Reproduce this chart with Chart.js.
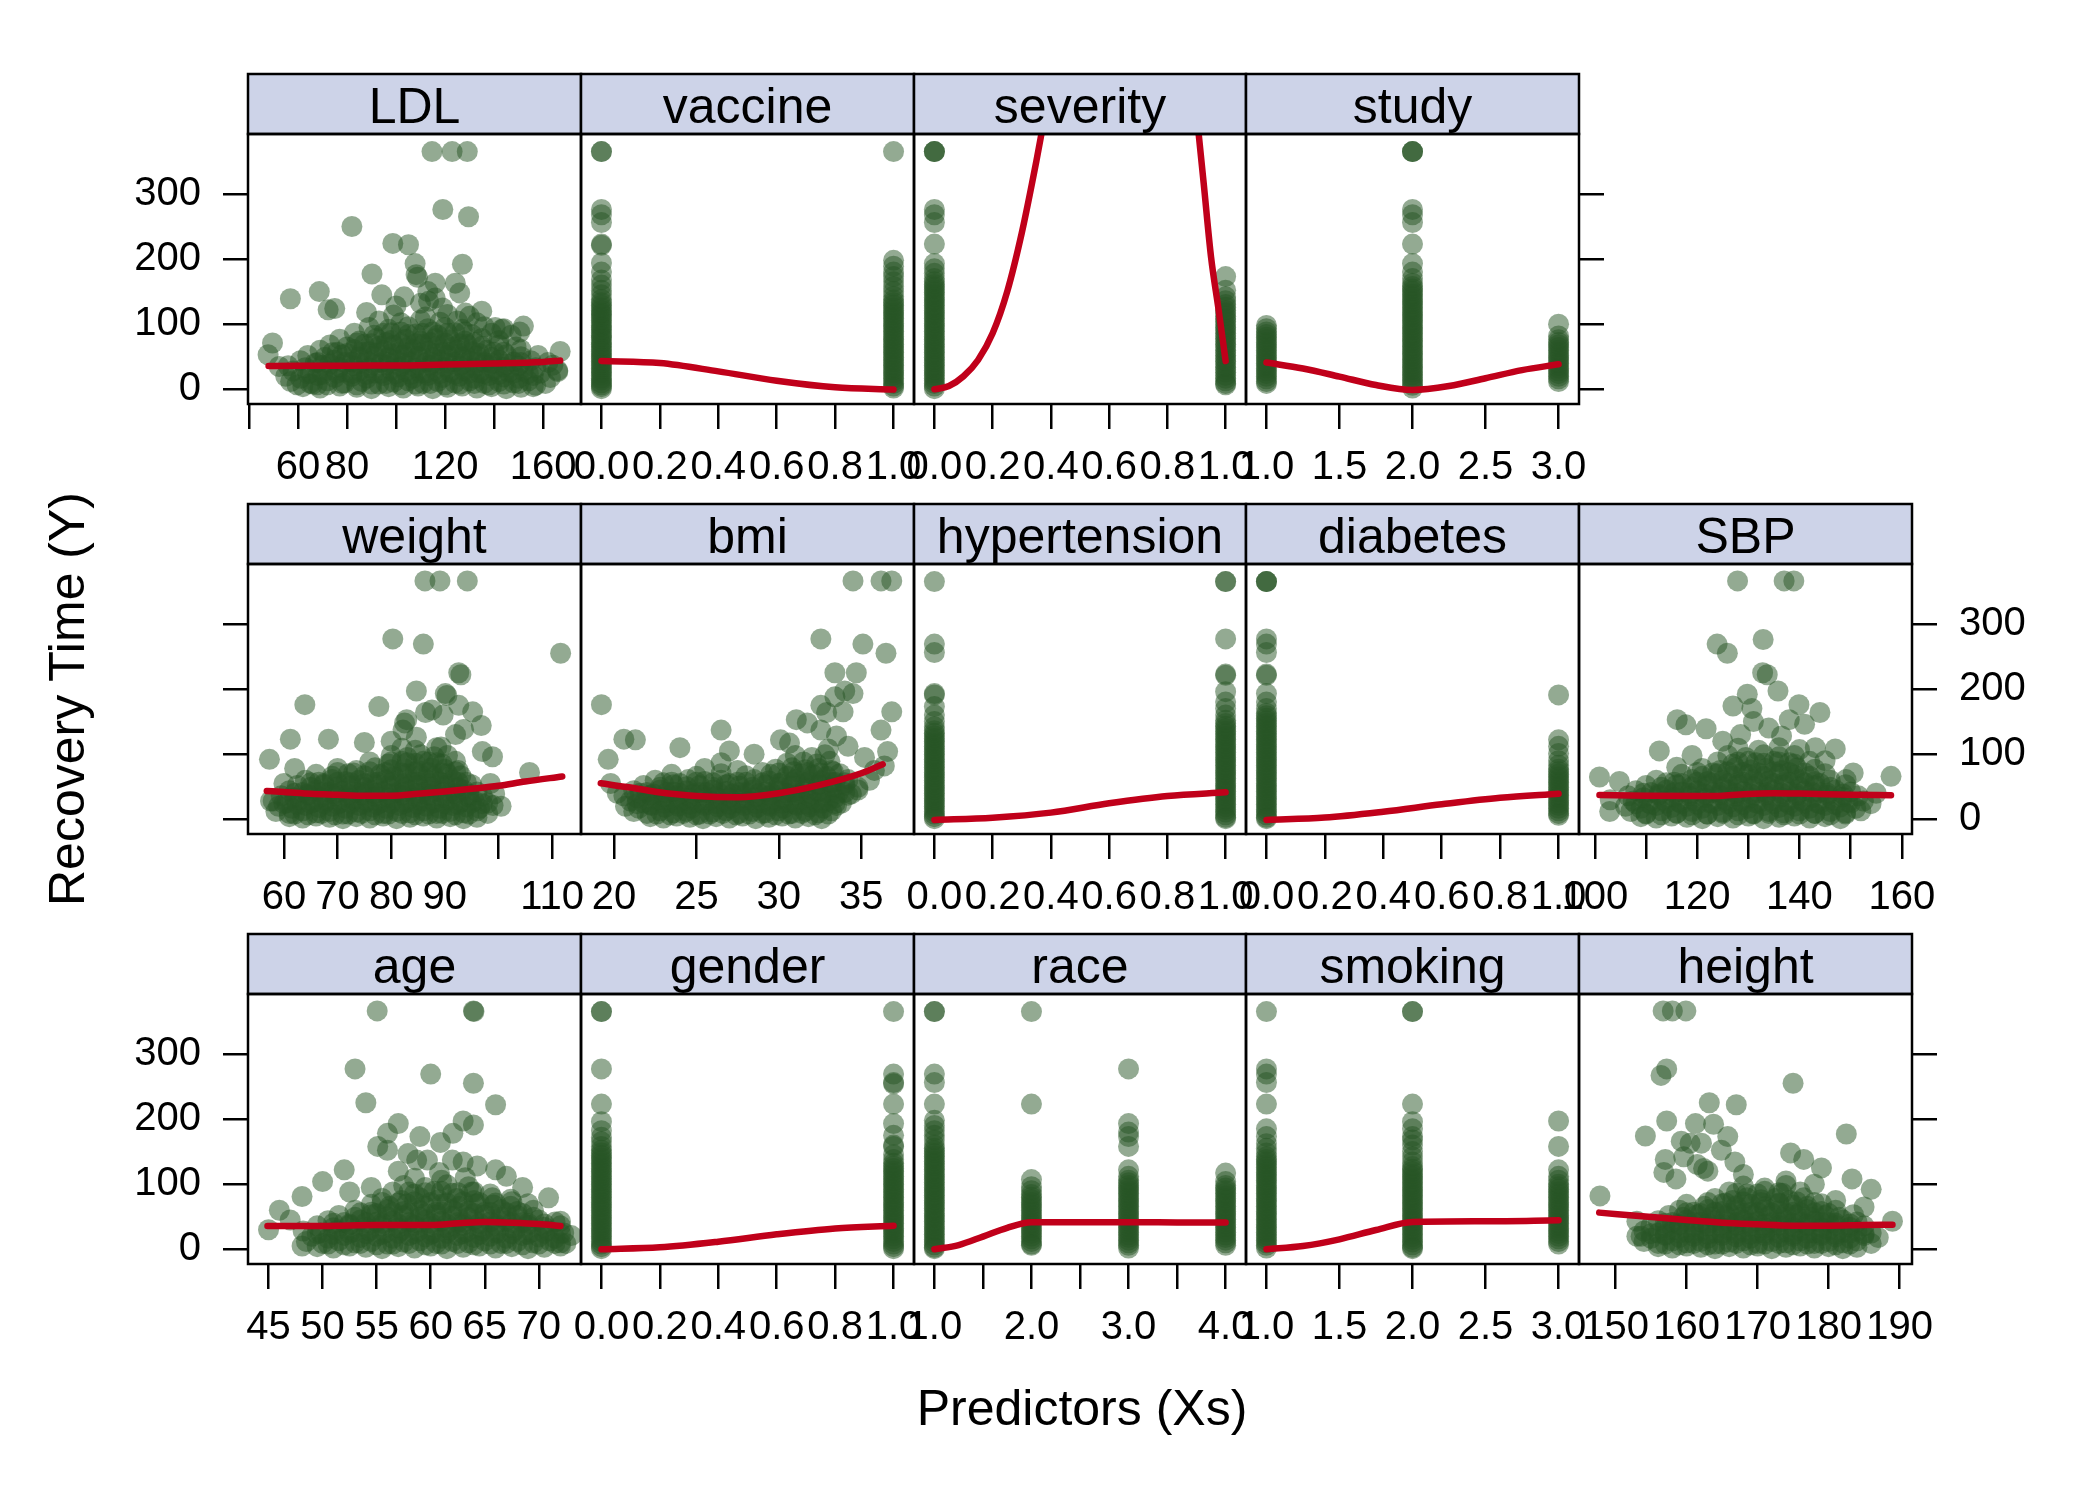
<!DOCTYPE html>
<html>
<head>
<meta charset="utf-8">
<title>Recovery Time by predictor</title>
<script src="https://cdn.jsdelivr.net/npm/chart.js@4.4.1/dist/chart.umd.min.js"></script>
<style>
  html, body { margin: 0; padding: 0; background: #fff; }
  body { width: 2100px; height: 1500px; position: relative; overflow: hidden; }
  canvas { position: absolute; }
  .axis-title { position: absolute; font-family: "Liberation Sans", Arial, sans-serif; font-size: 50px; line-height: 50px; height: 50px; white-space: nowrap; color: #000; }
  #ytitle { left: 67px; top: 699px; transform: translate(-50%, -50%) rotate(-90deg); }
  #xtitle { left: 1082px; top: 1383px; transform: translateX(-50%); }
</style>
</head>
<body>
<div id="ytitle" class="axis-title">Recovery Time (Y)</div>
<div id="xtitle" class="axis-title">Predictors (Xs)</div>
<script>
// shared y axis
const yTicks = [0, 100, 200, 300];
const yTickLabels = ['0', '100', '200', '300'];
const yRange = [-22.6, 392];

// tick sets
const binTicks = [0, 0.2, 0.4, 0.6, 0.8, 1];
const binTickLabels = ['0.0', '0.2', '0.4', '0.6', '0.8', '1.0'];
const binRange = [-0.07, 1.07];
const threeTicks = [1, 1.5, 2, 2.5, 3];
const threeTickLabels = ['1.0', '1.5', '2.0', '2.5', '3.0'];
const threeRange = [0.86, 3.14];

// LDL
const ldlTicks = [40, 60, 80, 100, 120, 140, 160];
const ldlTickLabels = ['', '60', '80', '', '120', '', '160'];
const ldlRange = [39.6, 175.5];
const ldlFitX = [48, 60, 75, 90, 100, 120, 140, 160, 167];
const ldlFitY = [35.8, 36, 36.2, 36.4, 36.5, 38, 39.5, 42, 44];
const ldlPoints = [
  114.7,365, 122.9,365, 129.1,365, 119.1,276, 129.6,265, 82,250, 98.7,224, 105.1,222, 107.8,193, 108.2,176, 108.8,172,
  127.1,192, 90.2,177, 56.9,139, 68.7,150, 72.3,122, 75,124, 94.2,145, 103.3,142, 113.3,135, 116,163, 124.2,163, 126,148,
  128.3,117, 49.6,71, 47.8,53, 167,58, 166,27, 156,4, 150.5,88, 140.5,95, 143.2,92, 52.3,35, 59.6,7, 67.8,7,
  100,128, 110,132, 119,125, 135,120, 88,118, 113,150, 116,140,
  62,4, 69,2, 77,5, 84,3, 90,1, 97,4, 103,2, 109,5, 115,1, 121,3, 127,5, 133,2, 139,4, 145,1, 151,3, 157,6,
  57,12, 65,9, 72,13, 79,10, 86,12, 93,8, 99,11, 105,13, 111,9, 117,12, 124,10, 130,13, 136,9, 142,12, 148,10, 154,13, 161,9,
  55,20, 61,17, 68,21, 75,18, 82,20, 88,17, 95,21, 101,19, 107,17, 113,21, 119,18, 126,20, 132,17, 138,21, 144,19, 150,17, 156,21, 163,18,
  58,28, 65,25, 72,29, 79,26, 85,28, 91,25, 98,29, 104,27, 110,25, 116,29, 122,26, 128,28, 134,25, 140,29, 146,26, 152,28, 159,25, 166,29,
  56,36, 63,33, 70,37, 77,34, 83,36, 89,33, 96,37, 102,35, 108,33, 114,37, 120,34, 126,36, 132,33, 138,37, 144,34, 150,36, 157,33, 164,37,
  61,44, 68,41, 75,45, 82,42, 88,44, 94,41, 100,45, 106,43, 112,41, 118,45, 124,42, 130,44, 136,41, 142,45, 148,42, 155,44, 162,41,
  64,52, 71,49, 78,53, 85,50, 91,52, 97,49, 103,53, 109,51, 115,49, 121,53, 127,50, 133,52, 139,49, 145,53, 151,50, 158,52,
  69,60, 76,57, 83,61, 89,58, 95,60, 101,57, 107,61, 113,59, 119,57, 125,61, 131,58, 137,60, 144,57, 151,61,
  73,68, 80,65, 87,69, 93,66, 99,68, 105,65, 111,69, 117,67, 123,65, 129,69, 135,66, 142,68, 149,65,
  77,77, 85,74, 92,78, 98,75, 104,77, 110,74, 116,78, 122,76, 128,74, 135,78, 142,75,
  83,86, 91,83, 98,87, 105,84, 111,86, 117,83, 124,87, 131,84, 139,86, 147,83,
  89,95, 97,92, 105,96, 113,93, 120,95, 127,92, 136,96, 144,93, 152,97,
  93,105, 102,102, 110,106, 118,103, 125,105, 133,102,
  99,114, 112,111, 121,115, 130,112,
  66,8, 72,7, 78,9, 84,7, 90,8, 96,9, 102,7, 108,8, 114,9, 120,7, 126,8, 132,9, 138,7, 144,8, 150,9,
  64,24, 70,23, 76,25, 82,24, 88,23, 94,25, 100,24, 106,23, 112,25, 118,24, 124,23, 130,25, 136,24, 142,23, 148,25, 154,24,
  67,40, 73,39, 79,41, 85,40, 91,39, 97,41, 103,40, 109,39, 115,41, 121,40, 127,39, 133,41, 139,40, 145,39, 151,41,
  74,56, 80,55, 86,57, 92,56, 98,55, 104,57, 110,56, 116,55, 122,57, 128,56, 134,55, 140,57,
  84,71, 90,70, 96,72, 102,71, 108,70, 114,72, 120,71, 126,70, 132,72,
  95,86, 102,88, 108,85, 115,88, 121,86, 128,88
];

// vaccine
const vaccineFitX = [0, 0.2, 0.4, 0.6, 0.8, 1];
const vaccineFitY = [43.5, 40.3, 27.5, 13.2, 3, -0.5];
const vaccineY0 = [365,365,276,268,256,223,221,194,180,168,160,152,145,138,133,129,125,121,117,114,110,106,102,98,95,91,87,83,80,76,72,69,65,61,58,54,50,47,43,39,36,32,28,25,21,17,14,10,7,4,1];
const vaccineY1 = [365,198,189,180,173,165,158,150,143,137,133,129,125,121,117,113,109,105,101,97,93,89,85,81,77,73,69,65,61,57,53,49,45,41,37,33,29,25,21,17,13,9,5,2];

// severity
const severityFitX = [0, 0.05, 0.1, 0.15, 0.2, 0.25, 0.3, 0.35, 0.4, 0.45, 0.5, 0.6, 0.7, 0.8, 0.85, 0.9, 0.925, 0.95, 0.975, 1];
const severityFitY = [0, 5, 20, 45, 86, 150, 240, 350, 470, 580, 680, 820, 880, 800, 640, 425, 315, 203, 125, 43.5];
const severityY0 = [365,365,365,276,268,256,223,193,185,178,170,165,161,157,153,149,145,141,137,133,129,125,121,117,113,109,105,101,97,93,89,85,81,77,73,69,65,61,57,53,49,45,41,37,33,29,25,21,17,13,9,5,1];
const severityY1 = [173,152,142,136,130,126,121,117,112,108,104,99,95,91,86,82,78,73,69,65,60,56,52,47,43,39,34,30,26,21,17,13,9,7];

// study
const studyFitX = [1, 1.25, 1.5, 1.75, 2, 2.25, 2.5, 2.75, 3];
const studyFitY = [41, 32, 19.5, 6.5, -1, 5, 17, 29.5, 38.4];
const studyY1 = [98,93,88,84,80,76,72,68,64,60,56,52,48,44,40,36,32,28,24,20,16,12,9];
const studyY2 = [365,365,365,276,268,256,223,193,180,170,163,158,154,150,146,142,138,134,130,126,122,118,114,110,106,102,98,94,90,86,82,78,74,70,66,62,58,54,50,46,42,38,34,30,26,22,18,14,10,6,2];
const studyY3 = [100,82,76,72,68,64,60,56,52,48,44,40,36,32,28,24,20,16,12];

// weight
const weightTicks = [60, 70, 80, 90, 100, 110];
const weightTickLabels = ['60', '70', '80', '90', '', '110'];
const weightRange = [53.3, 115.4];
const weightFitX = [56.8, 60, 65, 70, 75, 80, 85, 90, 95, 100, 105, 111.9];
const weightFitY = [43.5, 42, 39.2, 37.7, 36.2, 36.2, 39.2, 42.7, 46.8, 51.4, 58, 65.7];
const weightPoints = [
  86.3,366, 89.1,366, 94.2,366, 80.3,277, 86,269, 111.6,255, 92.6,225, 93,222, 84.7,197, 90.1,193, 90.4,190, 63.9,176,
  77.7,173, 61.2,123, 68.3,123, 57.3,92, 105.8,72, 98.9,96, 96.8,144, 95.2,165, 92.6,175, 99.3,39, 82.2,137, 82.9,153,
  86.4,164, 87.6,168, 89.7,160, 93.5,138, 84.7,126, 89.3,111, 82.5,148, 92,130, 97,104, 62,78, 60,55, 98.5,55, 100.5,20,
  57.5,28, 75,118, 80,120,
  61,4, 63.5,2, 66,5, 68.5,3, 71,1, 73.5,4, 76,2, 78.5,5, 81,1, 83.5,3, 86,5, 88.5,2, 91,4, 93.5,1, 96,3,
  58.5,12, 61,9, 63.5,13, 66,10, 68.5,12, 71,8, 73.5,11, 76,13, 78.5,9, 81,12, 83.5,10, 86,13, 88.5,9, 91,12, 93.5,10, 96,13, 98,9,
  59,20, 61.5,17, 64,21, 66.5,18, 69,20, 71.5,17, 74,21, 76.5,19, 79,17, 81.5,21, 84,18, 86.5,20, 89,17, 91.5,21, 94,19, 96.5,17, 99,21,
  58,28, 60.5,25, 63,29, 65.5,26, 68,28, 70.5,25, 73,29, 75.5,27, 78,25, 80.5,29, 83,26, 85.5,28, 88,25, 90.5,29, 93,26, 95.5,28, 98,25,
  59.5,36, 62,33, 64.5,37, 67,34, 69.5,36, 72,33, 74.5,37, 77,35, 79.5,33, 82,37, 84.5,34, 87,36, 89.5,33, 92,37, 94.5,34, 97,36,
  61,44, 63.5,41, 66,45, 68.5,42, 71,44, 73.5,41, 76,45, 78.5,43, 81,41, 83.5,45, 86,42, 88.5,44, 91,41, 93.5,45, 96,42,
  62.5,52, 65,49, 67.5,53, 70,50, 72.5,52, 75,49, 77.5,53, 80,51, 82.5,49, 85,53, 87.5,50, 90,52, 92.5,49, 95,53,
  64,60, 66.5,57, 69,61, 71.5,58, 74,60, 76.5,57, 79,61, 81.5,59, 84,57, 86.5,61, 89,58, 91.5,60, 94,57,
  66,69, 69,66, 72,70, 75,67, 78,69, 80.5,66, 83,70, 85.5,68, 88,66, 90.5,70, 93,67,
  70,78, 73.5,75, 77,79, 80,76, 82.5,78, 85,75, 87.5,79, 90,77, 92.5,75,
  76,88, 79.5,85, 82,89, 84.5,86, 87,88, 89.5,85, 92,89,
  80,98, 83,95, 85.5,99, 88,96, 90.5,98,
  82,109, 84.5,106, 88.5,110,
  62,8, 64.5,7, 67,9, 69.5,7, 72,8, 74.5,9, 77,7, 79.5,8, 82,9, 84.5,7, 87,8, 89.5,9, 92,7, 94.5,8,
  60,24, 62.5,23, 65,25, 67.5,24, 70,23, 72.5,25, 75,24, 77.5,23, 80,25, 82.5,24, 85,23, 87.5,25, 90,24, 92.5,23, 95,25, 97,24,
  62,40, 64.5,39, 67,41, 69.5,40, 72,39, 74.5,41, 77,40, 79.5,39, 82,41, 84.5,40, 87,39, 89.5,41, 92,40, 94.5,39,
  65,56, 67.5,55, 70,57, 72.5,56, 75,55, 77.5,57, 80,56, 82.5,55, 85,57, 87.5,56, 90,55, 92.5,57,
  70,72, 73,71, 76,73, 79,72, 82,71, 84.5,73, 87,72, 89.5,71, 92,73,
  80,88, 83,87, 86,89, 88.5,87
];

// bmi
const bmiTicks = [20, 25, 30, 35];
const bmiTickLabels = ['20', '25', '30', '35'];
const bmiRange = [18.0, 38.2];
const bmiFitX = [19.2, 21, 22.5, 25, 27.5, 30, 32.5, 35, 36.3];
const bmiFitY = [55.3, 48.7, 42.4, 35.8, 33.8, 39.9, 52.7, 70.6, 84.5];
const bmiPoints = [
  34.5,366, 36.2,366, 36.85,366, 32.55,277, 35.1,269, 36.5,255, 33.4,225, 34.7,225, 34,197, 34.5,193, 33.4,188, 33.9,165,
  32.55,175, 32.9,164, 36.85,165, 36.2,137, 36.6,104, 19.24,176, 20.6,123, 21.3,122, 19.65,92, 26.5,137, 31.06,153, 31.73,148,
  32.55,137, 30.1,122, 30.65,117, 33.5,128, 34.2,112, 33,108, 35.2,95, 35.8,75, 36.4,82, 35.5,60, 19.8,55, 20.2,40, 24,110,
  27,105, 28.5,100,
  22.2,4, 23,2, 23.8,5, 24.6,3, 25.4,1, 26.2,4, 27,2, 27.8,5, 28.6,1, 29.4,3, 30.2,5, 31,2, 31.8,4, 32.6,1,
  21.2,12, 22,9, 22.8,13, 23.6,10, 24.4,12, 25.2,8, 26,11, 26.8,13, 27.6,9, 28.4,12, 29.2,10, 30,13, 30.8,9, 31.6,12, 32.4,10, 33.2,13,
  20.7,20, 21.5,17, 22.3,21, 23.1,18, 23.9,20, 24.7,17, 25.5,21, 26.3,19, 27.1,17, 27.9,21, 28.7,18, 29.5,20, 30.3,17, 31.1,21, 31.9,19, 32.7,17, 33.5,21,
  21,28, 21.8,25, 22.6,29, 23.4,26, 24.2,28, 25,25, 25.8,29, 26.6,27, 27.4,25, 28.2,29, 29,26, 29.8,28, 30.6,25, 31.4,29, 32.2,26, 33,28, 33.8,25,
  20.6,36, 21.4,33, 22.2,37, 23,34, 23.8,36, 24.6,33, 25.4,37, 26.2,35, 27,33, 27.8,37, 28.6,34, 29.4,36, 30.2,33, 31,37, 31.8,34, 32.6,36, 33.4,33, 34.2,37,
  21.2,44, 22,41, 22.8,45, 23.6,42, 24.4,44, 25.2,41, 26,45, 26.8,43, 27.6,41, 28.4,45, 29.2,42, 30,44, 30.8,41, 31.6,45, 32.4,42, 33.2,44, 34,41, 34.8,45,
  21.8,52, 22.8,49, 23.6,53, 24.4,50, 25.2,52, 26,49, 26.8,53, 27.6,51, 28.4,49, 29.2,53, 30,50, 30.8,52, 31.6,49, 32.4,53, 33.2,50, 34,52, 34.8,49,
  22.5,60, 23.5,57, 24.5,61, 25.5,58, 26.5,60, 27.5,57, 28.5,61, 29.4,59, 30.2,57, 31,61, 31.8,58, 32.6,60, 33.4,57, 34.2,61,
  23.5,69, 25,66, 26.5,70, 28,67, 29.5,69, 30.5,66, 31.3,70, 32.1,68, 32.9,66, 33.7,70,
  25.5,78, 27.5,75, 29.8,77, 30.8,79, 31.6,76, 32.4,78, 33.2,75,
  26.5,87, 30.5,86, 31.5,88, 32.3,85, 33.1,89,
  31,98, 32,95, 32.8,99,
  22.6,8, 23.4,7, 24.2,9, 25,7, 25.8,8, 26.6,9, 27.4,7, 28.2,8, 29,9, 29.8,7, 30.6,8, 31.4,9, 32.2,7, 33,8,
  21.4,24, 22.2,23, 23,25, 23.8,24, 24.6,23, 25.4,25, 26.2,24, 27,23, 27.8,25, 28.6,24, 29.4,23, 30.2,25, 31,24, 31.8,23, 32.6,25, 33.4,24,
  21.6,40, 22.4,39, 23.2,41, 24,40, 24.8,39, 25.6,41, 26.4,40, 27.2,39, 28,41, 28.8,40, 29.6,39, 30.4,41, 31.2,40, 32,39, 32.8,41, 33.6,40, 34.4,39,
  23,56, 24,55, 25,57, 26,56, 27,55, 28,57, 29,56, 30,55, 30.8,57, 31.6,56, 32.4,55, 33.2,57, 34,56,
  29,72, 30,71, 30.9,73, 31.7,72, 32.5,71, 33.3,73
];

// hypertension
const hypertensionFitX = [0, 0.2, 0.4, 0.6, 0.8, 1];
const hypertensionFitY = [-1, 2.5, 10.2, 24.5, 35.8, 41.4];
const hypertensionY0 = [365,269,256,193,191,173,160,150,142,136,132,128,124,120,116,112,108,104,100,96,92,88,84,80,76,72,68,64,60,56,52,48,44,40,36,32,28,24,20,16,12,8,4,1];
const hypertensionY1 = [365,365,277,223,221,196,180,170,160,152,147,143,139,135,131,127,123,119,115,111,107,103,99,95,91,87,83,79,75,71,67,63,59,55,51,47,43,39,35,31,27,23,19,15,11,7,3,1];

// diabetes
const diabetesFitX = [0, 0.2, 0.4, 0.6, 0.8, 1];
const diabetesFitY = [-1, 2.7, 11.7, 23, 33, 39.3];
const diabetesY0 = [365,365,365,277,269,256,223,221,193,180,170,163,159,155,151,147,143,139,135,131,127,123,119,115,111,107,103,99,95,91,87,83,79,75,71,67,63,59,55,51,47,43,39,35,31,27,23,19,15,11,7,3,1];
const diabetesY1 = [191,122,112,101,90,83,77,73,69,65,61,57,53,49,45,41,37,33,29,25,21,17,13,9,6];

// SBP
const sbpTicks = [100, 110, 120, 130, 140, 150, 160];
const sbpTickLabels = ['100', '', '120', '', '140', '', '160'];
const sbpRange = [96.9, 162];
const sbpFitX = [100.9, 110, 120, 125, 130, 135, 140, 150, 157.9];
const sbpFitY = [37.3, 36.3, 35.8, 36.3, 38.9, 39.9, 39.4, 37.8, 36.8];
const sbpPoints = [
  127.9,366, 137,366, 138.9,366, 132.9,276, 123.9,269, 125.9,255, 132.8,225, 133.7,222, 135.8,197, 129.8,192, 127,174,
  130.7,170, 139.9,176, 144,164, 116.1,153, 117.8,145, 121.75,139, 112.6,105, 147,108, 143.1,110, 100.9,65, 104.8,58,
  102.9,12, 157.9,66, 150.5,71, 149.1,61, 154,24, 131,150, 134,140, 136.5,128, 138,153, 141,146, 128.5,130, 125,120,
  119,98, 145,90, 116,80, 103,30, 155,40,
  109,4, 112,2, 115,5, 118,3, 121,1, 124,4, 127,2, 130,5, 133,1, 136,3, 139,5, 142,2, 145,4, 148,1,
  107,12, 110,9, 113,13, 116,10, 119,12, 122,8, 125,11, 128,13, 131,9, 134,12, 137,10, 140,13, 143,9, 146,12, 149,10, 152,13,
  106,20, 109,17, 112,21, 115,18, 118,20, 121,17, 124,21, 127,19, 130,17, 133,21, 136,18, 139,20, 142,17, 145,21, 148,19, 151,17,
  107.5,28, 110.5,25, 113.5,29, 116.5,26, 119.5,28, 122.5,25, 125.5,29, 128.5,27, 131.5,25, 134.5,29, 137.5,26, 140.5,28, 143.5,25, 146.5,29, 149.5,26, 152.5,28,
  106.5,36, 109.5,33, 112.5,37, 115.5,34, 118.5,36, 121.5,33, 124.5,37, 127.5,35, 130.5,33, 133.5,37, 136.5,34, 139.5,36, 142.5,33, 145.5,37, 148.5,34, 151.5,36,
  108,44, 111,41, 114,45, 117,42, 120,44, 123,41, 126,45, 129,43, 132,41, 135,45, 138,42, 141,44, 144,41, 147,45, 150,42,
  110,52, 113,49, 116,53, 119,50, 122,52, 125,49, 128,53, 131,51, 134,49, 137,53, 140,50, 143,52, 146,49, 149,53,
  112,60, 115.5,57, 119,61, 122,58, 125,60, 128,57, 131,61, 134,59, 137,57, 140,61, 143,58, 146,60,
  117,69, 121,66, 124,70, 127,67, 130,69, 133,66, 136,70, 139,68, 142,66, 145,70,
  121,78, 124.5,75, 127.5,79, 130.5,76, 133.5,78, 136.5,75, 139.5,79, 143,77,
  124,88, 127,85, 130,89, 133,86, 136,88, 139,85, 142,89,
  126,98, 129.5,95, 133,99, 136,96, 139,98,
  128,109, 132,106, 136,110, 140,107,
  110,8, 113,7, 116,9, 119,7, 122,8, 125,9, 128,7, 131,8, 134,9, 137,7, 140,8, 143,9, 146,7, 149,8,
  108,24, 111,23, 114,25, 117,24, 120,23, 123,25, 126,24, 129,23, 132,25, 135,24, 138,23, 141,25, 144,24, 147,23, 150,25,
  109.5,40, 112.5,39, 115.5,41, 118.5,40, 121.5,39, 124.5,41, 127.5,40, 130.5,39, 133.5,41, 136.5,40, 139.5,39, 142.5,41, 145.5,40, 148.5,39,
  114,56, 117,55, 120,57, 123,56, 126,55, 129,57, 132,56, 135,55, 138,57, 141,56, 144,55,
  120,72, 123,71, 126,73, 129,72, 132,71, 135,73, 138,72, 141,71,
  128,88, 131.5,87, 135,89, 138,87
];

// age
const ageTicks = [45, 50, 55, 60, 65, 70];
const ageTickLabels = ['45', '50', '55', '60', '65', '70'];
const ageRange = [43.1, 73.9];
const ageFitX = [44.9, 50, 55, 60, 62.6, 65, 67.5, 70, 72];
const ageFitY = [35.8, 35.8, 37.3, 37.3, 39.9, 41.9, 40.9, 38.9, 35.8];
const agePoints = [
  55.05,366, 63.95,366, 64,365, 53,277, 60,269, 63.95,255, 54,225, 66,222, 57,193, 63,197, 63.95,191, 56,178, 59,173,
  60.9,164, 62.05,178, 55.1,158, 56,152, 52,122, 50,104, 48.1,81, 46,60, 45,30, 48.1,5, 70.9,79, 72,43, 72,10, 66,122,
  67,112, 57.9,147, 58.7,137, 59.7,137, 62,137, 63,134, 64.3,128, 60.8,118, 57,120, 54.5,95, 52.5,88, 47,45, 68.5,95,
  49.5,4, 51,2, 52.5,5, 54,3, 55.5,1, 57,4, 58.5,2, 60,5, 61.5,1, 63,3, 64.5,5, 66,2, 67.5,4, 69,1, 70.5,3, 72,5,
  48.5,12, 50,9, 51.5,13, 53,10, 54.5,12, 56,8, 57.5,11, 59,13, 60.5,9, 62,12, 63.5,10, 65,13, 66.5,9, 68,12, 69.5,10, 71,13, 72.5,9,
  49,20, 50.5,17, 52,21, 53.5,18, 55,20, 56.5,17, 58,21, 59.5,19, 61,17, 62.5,21, 64,18, 65.5,20, 67,17, 68.5,21, 70,19, 71.5,17, 73,21,
  48.2,28, 49.8,25, 51.3,29, 52.8,26, 54.3,28, 55.8,25, 57.3,29, 58.8,27, 60.3,25, 61.8,29, 63.3,26, 64.8,28, 66.3,25, 67.8,29, 69.3,26, 70.8,28, 72.3,25,
  49.5,36, 51,33, 52.5,37, 54,34, 55.5,36, 57,33, 58.5,37, 60,35, 61.5,33, 63,37, 64.5,34, 66,36, 67.5,33, 69,37, 70.5,34, 72,36,
  50.5,44, 52,41, 53.5,45, 55,42, 56.5,44, 58,41, 59.5,45, 61,43, 62.5,41, 64,45, 65.5,42, 67,44, 68.5,41, 70,45, 71.5,42,
  51.5,52, 53,49, 54.5,53, 56,50, 57.5,52, 59,49, 60.5,53, 62,51, 63.5,49, 65,53, 66.5,50, 68,52, 69.5,49,
  53,60, 54.5,57, 56,61, 57.5,58, 59,60, 60.5,57, 62,61, 63.5,59, 65,57, 66.5,61, 68,58, 69.5,60,
  54.5,69, 56.2,66, 57.8,70, 59.4,67, 61,69, 62.6,66, 64.2,70, 65.8,68, 67.4,66, 69,70,
  55.5,78, 57.3,75, 59,79, 60.7,76, 62.4,78, 64,75, 65.7,79, 67.4,77,
  56.5,88, 58.5,85, 60.3,89, 62,86, 63.8,88, 65.5,85,
  57.5,98, 59.5,95, 61.5,99, 63.5,96,
  58.5,109, 61,106, 63.2,110,
  50.5,8, 52,7, 53.5,9, 55,7, 56.5,8, 58,9, 59.5,7, 61,8, 62.5,9, 64,7, 65.5,8, 67,9, 68.5,7, 70,8, 71.5,9,
  49.5,24, 51,23, 52.5,25, 54,24, 55.5,23, 57,25, 58.5,24, 60,23, 61.5,25, 63,24, 64.5,23, 66,25, 67.5,24, 69,23, 70.5,25, 72,24,
  51,40, 52.5,39, 54,41, 55.5,40, 57,39, 58.5,41, 60,40, 61.5,39, 63,41, 64.5,40, 66,39, 67.5,41, 69,40, 70.5,39,
  53.5,56, 55,55, 56.5,57, 58,56, 59.5,55, 61,57, 62.5,56, 64,55, 65.5,57, 67,56, 68.5,55,
  55.5,72, 57,71, 58.5,73, 60,72, 61.5,71, 63,73, 64.5,72, 66,71, 67.5,73,
  58,88, 59.5,87, 61,89, 62.5,87, 64,88
];

// gender
const genderFitX = [0, 0.2, 0.4, 0.6, 0.8, 1];
const genderFitY = [0, 3, 11.7, 23, 32, 36.3];
const genderY0 = [365,365,277,223,196,182,172,165,158,152,148,144,140,136,132,128,124,120,116,112,108,104,100,96,92,88,84,80,76,72,68,64,60,56,52,48,44,40,36,32,28,24,20,16,12,8,4,1];
const genderY1 = [365,269,256,254,223,193,175,160,158,145,138,132,128,124,120,116,112,108,104,100,96,92,88,84,80,76,72,68,64,60,56,52,48,44,40,36,32,28,24,20,16,12,8,4,1];

// race
const raceTicks = [1, 1.5, 2, 2.5, 3, 3.5, 4];
const raceTickLabels = ['1.0', '', '2.0', '', '3.0', '', '4.0'];
const raceRange = [0.79, 4.21];
const raceFitX = [1, 1.25, 1.5, 1.75, 2, 2.5, 3, 3.5, 4];
const raceFitY = [0, 6.5, 19.5, 33, 41.5, 41.5, 41.5, 41.2, 41];
const raceY1 = [365,365,269,256,223,198,190,182,175,168,160,155,151,147,143,139,135,131,127,123,119,115,111,107,103,99,95,91,87,83,79,75,71,67,63,59,55,51,47,43,39,35,31,27,23,19,15,11,7,3,1];
const raceY2 = [365,223,107,96,90,84,80,76,72,68,64,60,56,52,48,44,40,36,32,28,24,20,16,12,8,6];
const raceY3 = [277,193,180,173,158,122,112,106,102,98,94,90,86,82,78,74,70,66,62,58,54,50,46,42,38,34,30,26,22,18,14,10,6,2];
const raceY4 = [117,104,98,94,90,86,82,78,74,70,66,62,58,54,50,46,42,38,34,30,26,22,18,14,10,6];

// smoking
const smokingFitX = [1, 1.25, 1.5, 1.75, 2, 2.5, 3];
const smokingFitY = [0, 5, 15.3, 29.6, 41.9, 43, 44.5];
const smokingY1 = [365,277,269,256,223,185,173,162,155,148,142,138,134,130,126,122,118,114,110,106,102,98,94,90,86,82,78,74,70,66,62,58,54,50,46,42,38,34,30,26,22,18,14,10,6,2];
const smokingY2 = [365,365,223,196,185,173,168,160,150,142,134,127,123,119,115,111,107,103,99,95,91,87,83,79,75,71,67,63,59,55,51,47,43,39,35,31,27,23,19,15,11,7,3,1];
const smokingY3 = [197,158,122,112,106,100,96,92,88,84,80,76,72,68,64,60,56,52,48,44,40,36,32,28,24,20,16,12,8];

// height
const heightTicks = [150, 160, 170, 180, 190];
const heightTickLabels = ['150', '160', '170', '180', '190'];
const heightRange = [144.85, 191.75];
const heightFitX = [147.7, 155.5, 160, 165, 170, 175, 180, 185, 189];
const heightFitY = [56.3, 49.1, 45, 40.9, 38.4, 36.3, 36.3, 37.3, 37.8];
const heightPoints = [
  156.7,366, 158,366, 159.9,366, 157.2,277, 156.4,267, 175,255, 163.2,225, 167,222, 157.2,197, 161.25,193, 163.8,192,
  154.2,174, 165.8,173, 182.5,177, 159.25,166, 160.5,163, 162.1,163, 164.9,152, 174.65,148, 176.5,138, 179,125, 183.3,108,
  186,92, 147.8,82, 189,43, 153,43, 153.6,20, 157,138, 159.6,142, 162.4,124, 166.8,134, 161.5,130, 163,120, 168,115,
  158.5,108, 156.8,118, 174,105, 178,100, 181,75, 185,65,
  156,4, 158,2, 160,5, 162,3, 164,1, 166,4, 168,2, 170,5, 172,1, 174,3, 176,5, 178,2, 180,4, 182,1, 184,3,
  154,12, 156,9, 158,13, 160,10, 162,12, 164,8, 166,11, 168,13, 170,9, 172,12, 174,10, 176,13, 178,9, 180,12, 182,10, 184,13, 186,9,
  153,20, 155,17, 157,21, 159,18, 161,20, 163,17, 165,21, 167,19, 169,17, 171,21, 173,18, 175,20, 177,17, 179,21, 181,19, 183,17, 185,21, 187,18,
  154,28, 156,25, 158,29, 160,26, 162,28, 164,25, 166,29, 168,27, 170,25, 172,29, 174,26, 176,28, 178,25, 180,29, 182,26, 184,28, 186,25,
  155,36, 157,33, 159,37, 161,34, 163,36, 165,33, 167,37, 169,35, 171,33, 173,37, 175,34, 177,36, 179,33, 181,37, 183,34, 185,36,
  156,44, 158,41, 160,45, 162,42, 164,44, 166,41, 168,45, 170,43, 172,41, 174,45, 176,42, 178,44, 180,41, 182,45, 184,42,
  157.5,52, 159.5,49, 161.5,53, 163.5,50, 165.5,52, 167.5,49, 169.5,53, 171.5,51, 173.5,49, 175.5,53, 177.5,50, 179.5,52, 181.5,49, 183.5,53,
  159,60, 161,57, 163,61, 165,58, 167,60, 169,57, 171,61, 173,59, 175,57, 177,61, 179,58, 181,60,
  160,69, 162.5,66, 165,70, 167,67, 169,69, 171,66, 173,70, 175,68, 177,66, 179,70,
  164,78, 166.5,75, 168.5,79, 170.5,76, 172.5,78, 174.5,75, 176.5,79,
  166,88, 168.5,85, 171,89, 173.5,86, 176,88,
  168,97, 171,94, 174,98,
  157,8, 159,7, 161,9, 163,7, 165,8, 167,9, 169,7, 171,8, 173,9, 175,7, 177,8, 179,9, 181,7, 183,8,
  155,24, 157,23, 159,25, 161,24, 163,23, 165,25, 167,24, 169,23, 171,25, 173,24, 175,23, 177,25, 179,24, 181,23, 183,25, 185,24,
  157,40, 159,39, 161,41, 163,40, 165,39, 167,41, 169,40, 171,39, 173,41, 175,40, 177,39, 179,41, 181,40, 183,39,
  160,56, 162,55, 164,57, 166,56, 168,55, 170,57, 172,56, 174,55, 176,57, 178,56, 180,55,
  163,72, 165.5,71, 168,73, 170.5,72, 173,71, 175.5,73, 178,72,
  167,86, 170,85, 173,87
];

// styling and page geometry
const pointColor = 'rgba(40, 86, 38, 0.5)';
const fitColor = '#c0001a';
const stripColor = '#cdd3e8';
const fontFamily = '"Liberation Sans", Arial, Helvetica, sans-serif';
const GRID_LEFT = 248, PANEL_W = 332.8, ROW_TOP = 74, ROW_STEP = 430;
const STRIP_H = 60, PANEL_H = 270, TOP_PAD = 4;
const MARGIN_L = 150, MARGIN_R = 150, MARGIN_B = 120;
const POINT_R = 10.5, FIT_W = 6.5, TICK_FONT = 40, STRIP_FONT = 50;

function toPoints(flat) {
  const pts = [];
  for (let i = 0; i < flat.length; i += 2) pts.push({ x: flat[i], y: flat[i + 1] });
  return pts;
}

function columnPoints(levels, columns) {
  const pts = [];
  levels.forEach((lv, i) => columns[i].forEach(y => pts.push({ x: lv, y })));
  return pts;
}

function fitPoints(xs, ys) {
  return xs.map((x, i) => ({ x, y: ys[i] }));
}

const panels = [
  { name: 'LDL', row: 0, col: 0, pts: toPoints(ldlPoints), fit: fitPoints(ldlFitX, ldlFitY), range: ldlRange, ticks: ldlTicks, labels: ldlTickLabels },
  { name: 'vaccine', row: 0, col: 1, pts: columnPoints([0, 1], [vaccineY0, vaccineY1]), fit: fitPoints(vaccineFitX, vaccineFitY), range: binRange, ticks: binTicks, labels: binTickLabels },
  { name: 'severity', row: 0, col: 2, pts: columnPoints([0, 1], [severityY0, severityY1]), fit: fitPoints(severityFitX, severityFitY), range: binRange, ticks: binTicks, labels: binTickLabels },
  { name: 'study', row: 0, col: 3, pts: columnPoints([1, 2, 3], [studyY1, studyY2, studyY3]), fit: fitPoints(studyFitX, studyFitY), range: threeRange, ticks: threeTicks, labels: threeTickLabels },
  { name: 'weight', row: 1, col: 0, pts: toPoints(weightPoints), fit: fitPoints(weightFitX, weightFitY), range: weightRange, ticks: weightTicks, labels: weightTickLabels },
  { name: 'bmi', row: 1, col: 1, pts: toPoints(bmiPoints), fit: fitPoints(bmiFitX, bmiFitY), range: bmiRange, ticks: bmiTicks, labels: bmiTickLabels },
  { name: 'hypertension', row: 1, col: 2, pts: columnPoints([0, 1], [hypertensionY0, hypertensionY1]), fit: fitPoints(hypertensionFitX, hypertensionFitY), range: binRange, ticks: binTicks, labels: binTickLabels },
  { name: 'diabetes', row: 1, col: 3, pts: columnPoints([0, 1], [diabetesY0, diabetesY1]), fit: fitPoints(diabetesFitX, diabetesFitY), range: binRange, ticks: binTicks, labels: binTickLabels },
  { name: 'SBP', row: 1, col: 4, pts: toPoints(sbpPoints), fit: fitPoints(sbpFitX, sbpFitY), range: sbpRange, ticks: sbpTicks, labels: sbpTickLabels },
  { name: 'age', row: 2, col: 0, pts: toPoints(agePoints), fit: fitPoints(ageFitX, ageFitY), range: ageRange, ticks: ageTicks, labels: ageTickLabels },
  { name: 'gender', row: 2, col: 1, pts: columnPoints([0, 1], [genderY0, genderY1]), fit: fitPoints(genderFitX, genderFitY), range: binRange, ticks: binTicks, labels: binTickLabels },
  { name: 'race', row: 2, col: 2, pts: columnPoints([1, 2, 3, 4], [raceY1, raceY2, raceY3, raceY4]), fit: fitPoints(raceFitX, raceFitY), range: raceRange, ticks: raceTicks, labels: raceTickLabels },
  { name: 'smoking', row: 2, col: 3, pts: columnPoints([1, 2, 3], [smokingY1, smokingY2, smokingY3]), fit: fitPoints(smokingFitX, smokingFitY), range: threeRange, ticks: threeTicks, labels: threeTickLabels },
  { name: 'height', row: 2, col: 4, pts: toPoints(heightPoints), fit: fitPoints(heightFitX, heightFitY), range: heightRange, ticks: heightTicks, labels: heightTickLabels }
];

// strip on top of each panel plus the box around it
const panelFrame = {
  id: 'panelFrame',
  afterDraw(chart, args, opts) {
    const { ctx, chartArea: a } = chart;
    const w = a.right - a.left;
    ctx.save();
    ctx.fillStyle = stripColor;
    ctx.fillRect(a.left, a.top - STRIP_H, w, STRIP_H);
    ctx.lineWidth = 2.5;
    ctx.strokeStyle = '#000';
    ctx.strokeRect(a.left, a.top - STRIP_H, w, STRIP_H);
    ctx.strokeRect(a.left, a.top, w, a.bottom - a.top);
    ctx.fillStyle = '#000';
    ctx.font = STRIP_FONT + 'px ' + fontFamily;
    ctx.textAlign = 'center';
    ctx.textBaseline = 'alphabetic';
    ctx.fillText(opts.label, a.left + w / 2, a.top - 11);
    ctx.restore();
  }
};

function yAxis(position, marks, labels) {
  return {
    type: 'linear',
    position,
    min: yRange[0],
    max: yRange[1],
    afterFit: s => { s.width = position === 'left' ? MARGIN_L : MARGIN_R; },
    afterBuildTicks: s => { s.ticks = yTicks.map(v => ({ value: v })); },
    grid: { display: marks, drawOnChartArea: false, drawTicks: true, tickLength: 25, color: '#000', lineWidth: 2.5, tickWidth: 2.5 },
    border: { display: false },
    ticks: {
      display: labels, autoSkip: false, padding: 22, color: '#000',
      font: { family: fontFamily, size: TICK_FONT },
      callback: (v, i) => yTickLabels[i]
    }
  };
}

function makePanel(p) {
  const left = Math.round(GRID_LEFT + p.col * PANEL_W);
  const right = Math.round(GRID_LEFT + (p.col + 1) * PANEL_W);
  const w = right - left;
  const top = ROW_TOP + p.row * ROW_STEP;
  const lastCol = p.row === 0 ? 3 : 4;

  const cv = document.createElement('canvas');
  cv.width = w + MARGIN_L + MARGIN_R;
  cv.height = TOP_PAD + STRIP_H + PANEL_H + MARGIN_B;
  cv.style.left = (left - MARGIN_L) + 'px';
  cv.style.top = (top - TOP_PAD) + 'px';
  cv.style.width = cv.width + 'px';
  cv.style.height = cv.height + 'px';
  document.body.appendChild(cv);

  new Chart(cv.getContext('2d'), {
    type: 'scatter',
    data: {
      datasets: [
        {
          type: 'line', data: p.fit, borderColor: fitColor, borderWidth: FIT_W, pointRadius: 0,
          cubicInterpolationMode: 'monotone', borderCapStyle: 'round', borderJoinStyle: 'round', fill: false, order: 0
        },
        {
          type: 'scatter', data: p.pts, pointBackgroundColor: pointColor, pointBorderWidth: 0,
          pointRadius: POINT_R, pointHoverRadius: POINT_R, order: 1
        }
      ]
    },
    options: {
      responsive: false,
      animation: false,
      events: [],
      layout: { padding: { top: TOP_PAD + STRIP_H, left: 0, right: 0, bottom: 0 }, autoPadding: false },
      plugins: {
        legend: { display: false },
        tooltip: { enabled: false },
        panelFrame: { label: p.name }
      },
      scales: {
        x: {
          type: 'linear',
          position: 'bottom',
          min: p.range[0],
          max: p.range[1],
          afterFit: s => { s.height = MARGIN_B; },
          afterBuildTicks: s => { s.ticks = p.ticks.map(v => ({ value: v })); },
          grid: { display: true, drawOnChartArea: false, drawTicks: true, tickLength: 25, color: '#000', lineWidth: 2.5, tickWidth: 2.5 },
          border: { display: false },
          ticks: {
            autoSkip: false, maxRotation: 0, minRotation: 0, padding: 15, color: '#000',
            font: { family: fontFamily, size: TICK_FONT },
            callback: (v, i) => p.labels[i]
          }
        },
        y: yAxis('left', p.col === 0, p.col === 0 && p.row !== 1),
        y2: yAxis('right', p.col === lastCol, p.col === lastCol && p.row === 1)
      }
    },
    plugins: [panelFrame]
  });
}

panels.forEach(makePanel);
</script>
</body>
</html>
